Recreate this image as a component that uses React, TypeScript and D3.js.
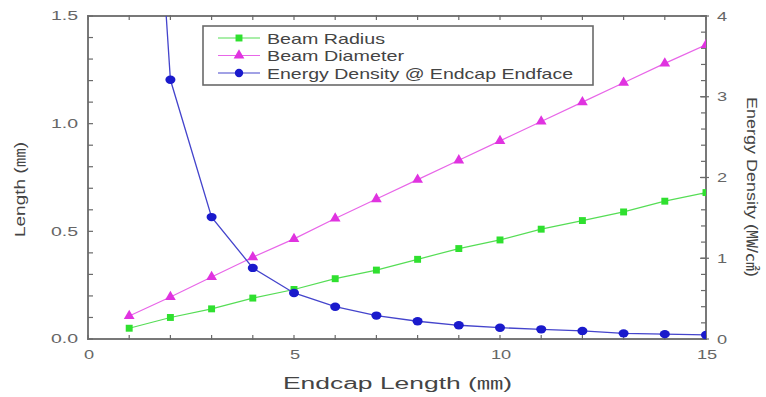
import React from "react";
import * as d3 from "d3";

const endcapLength = [1, 2, 3, 4, 5, 6, 7, 8, 9, 10, 11, 12, 13, 14, 15];
const beamRadius = [0.05, 0.1, 0.14, 0.19, 0.23, 0.28, 0.32, 0.37, 0.42, 0.46, 0.51, 0.55, 0.59, 0.64, 0.68];
const beamDiameter = [0.107, 0.195, 0.288, 0.38, 0.465, 0.56, 0.65, 0.74, 0.83, 0.92, 1.01, 1.1, 1.19, 1.28, 1.366];
const energyDensity = [11, 3.21, 1.51, 0.88, 0.57, 0.4, 0.29, 0.22, 0.17, 0.14, 0.12, 0.1, 0.07, 0.06, 0.05];

const xTicks = [0, 5, 10, 15];
const leftTicks = [0, 0.5, 1.0, 1.5];
const rightTicks = [0, 1, 2, 3, 4];
const legendLabels = ["Beam Radius", "Beam Diameter", "Energy Density @ Endcap Endface"];

const W = 766, H = 397;
const L = 88, R = 706, T = 16, B = 339;
const FONT = "'Liberation Sans', Arial, 'Noto Sans CJK SC', sans-serif";

const GREEN = "#2fe02f", GREEN_L = "#55dd55";
const MAG = "#e033e0", MAG_L = "#e866e8";
const BLUE = "#1a1acc", BLUE_L = "#4444cc";

export default function App() {
  const x = d3.scaleLinear().domain([0, 15]).range([L, R]);
  const yL = d3.scaleLinear().domain([0, 1.5]).range([B, T]);
  const yR = d3.scaleLinear().domain([0, 4]).range([B, T]);

  const lineL = (vals: number[]) =>
    d3.line<number>().x((_, i) => x(endcapLength[i])).y((v) => yL(v))(vals) || "";
  const lineR = (vals: number[]) =>
    d3.line<number>().x((_, i) => x(endcapLength[i])).y((v) => yR(v))(vals) || "";

  const sq = d3.symbol(d3.symbolSquare, 48)() || "";
  const tri = d3.symbol(d3.symbolTriangle, 50)() || "";
  const circ = d3.symbol(d3.symbolCircle, 55)() || "";

  const axisColor = "#6a6a6a";
  const tickColor = "#666";

  const xMinor = d3.range(0, 15.001, 1);
  const lMinor = d3.range(0, 1.5001, 0.1);
  const rMinor = d3.range(0, 4.001, 0.2);

  const legendRows = [
    { label: legendLabels[0], color: GREEN, lc: GREEN_L, sym: sq, w: 118 },
    { label: legendLabels[1], color: MAG, lc: MAG_L, sym: tri, w: 137 },
    { label: legendLabels[2], color: BLUE, lc: BLUE_L, sym: circ, w: 306 },
  ];

  return (
    <svg width={W} height={H} style={{ position: "absolute", left: 0, top: 0, background: "#fff" }} fontFamily={FONT}>
      <defs>
        <clipPath id="plot">
          <rect x={L} y={T} width={R - L} height={B - T} />
        </clipPath>
      </defs>

      {/* minor ticks */}
      {xMinor.map((v, i) => (
        <g key={"xm" + i} stroke={axisColor} strokeWidth={1.2}>
          <line x1={x(v)} x2={x(v)} y1={B + 1} y2={B - 4} />
          <line x1={x(v)} x2={x(v)} y1={T - 1} y2={T + 4} />
        </g>
      ))}
      {lMinor.map((v, i) => (
        <line key={"lm" + i} x1={L} x2={L + 5} y1={yL(v)} y2={yL(v)} stroke={axisColor} strokeWidth={1.2} />
      ))}
      {rMinor.map((v, i) => (
        <line key={"rm" + i} x1={R} x2={R - 5} y1={yR(v)} y2={yR(v)} stroke={axisColor} strokeWidth={1.2} />
      ))}
      {rightTicks.map((v, i) => (
        <line key={"rM" + i} x1={R + 3} x2={R - 6} y1={yR(v)} y2={yR(v)} stroke={axisColor} strokeWidth={1.2} />
      ))}

      {/* frame */}
      <rect x={L} y={T} width={R - L} height={B - T} fill="none" stroke={axisColor} strokeWidth={1.8} />

      {/* series */}
      <g clipPath="url(#plot)">
        <path d={lineL(beamRadius)} fill="none" stroke={GREEN_L} strokeWidth={1.2} />
        <path d={lineL(beamDiameter)} fill="none" stroke={MAG_L} strokeWidth={1.2} />
        <path d={lineR(energyDensity)} fill="none" stroke={BLUE_L} strokeWidth={1.3} />
        {beamRadius.map((v, i) => (
          <path key={"r" + i} d={sq} transform={`translate(${x(endcapLength[i])},${yL(v)})`} fill={GREEN} />
        ))}
        {beamDiameter.map((v, i) => (
          <path key={"d" + i} d={tri} transform={`translate(${x(endcapLength[i])},${yL(v)})`} fill={MAG} />
        ))}
        {energyDensity.map((v, i) => (
          <path key={"e" + i} d={circ} transform={`translate(${x(endcapLength[i])},${yR(v)}) scale(1.2,1)`} fill={BLUE} />
        ))}
      </g>

      {/* tick labels */}
      {leftTicks.map((v, i) => (
        <text key={"lt" + i} transform={`translate(78,${yL(v)}) scale(1.5,1)`} textAnchor="end" dominantBaseline="central" fontSize={13} fill={tickColor}>
          {v.toFixed(1)}
        </text>
      ))}
      {xTicks.map((v, i) => (
        <text key={"xt" + i} transform={`translate(${x(v) + 1},${354}) scale(1.4,1)`} textAnchor="middle" dominantBaseline="central" fontSize={13} fill={tickColor}>
          {v}
        </text>
      ))}
      {rightTicks.map((v, i) => (
        <text key={"rt" + i} transform={`translate(722,${yR(v)}) scale(1.4,1)`} textAnchor="middle" dominantBaseline="central" fontSize={13} fill={tickColor}>
          {v}
        </text>
      ))}

      {/* axis titles */}
      <text x={283} y={389} fontSize={16} fill="#444" textLength={229} lengthAdjust="spacingAndGlyphs">
        Endcap Length (㎜)
      </text>
      <text transform={`translate(25,237) rotate(-90)`} fontSize={15} fill="#444" textLength={95} lengthAdjust="spacingAndGlyphs">
        Length (㎜)
      </text>
      <text transform={`translate(747,97) rotate(90)`} fontSize={15} fill="#444" textLength={180} lengthAdjust="spacingAndGlyphs">
        Energy Density (㎿/㎠)
      </text>

      {/* legend */}
      <rect x={203} y={26} width={390} height={59} fill="#fff" stroke={axisColor} strokeWidth={1.6} />
      {legendRows.map((r, i) => {
        const yy = 38 + i * 17.5;
        return (
          <g key={"lg" + i}>
            <line x1={218} x2={260} y1={yy} y2={yy} stroke={r.lc} strokeWidth={1.2} />
            <path d={r.sym} transform={`translate(239,${yy})`} fill={r.color} />
            <text x={267} y={yy} dominantBaseline="central" fontSize={15} fill="#444" textLength={r.w} lengthAdjust="spacingAndGlyphs">
              {r.label}
            </text>
          </g>
        );
      })}
    </svg>
  );
}
